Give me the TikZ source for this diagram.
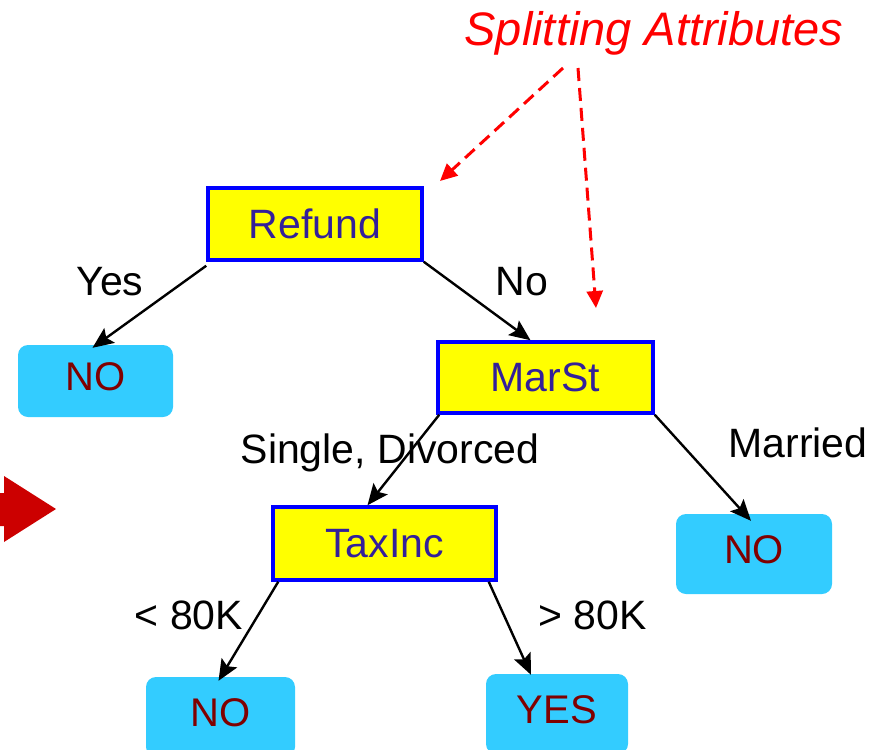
\documentclass[tikz,border=0pt]{standalone}
\usepackage{fontspec}
\setmainfont{Liberation Sans}
\usetikzlibrary{arrows.meta}
\definecolor{boxfill}{HTML}{FFFF00}
\definecolor{boxline}{HTML}{0000FF}
\definecolor{boxtext}{HTML}{33209A}
\definecolor{leaffill}{HTML}{33CCFF}
\definecolor{leaftext}{HTML}{800000}
\definecolor{noteRed}{HTML}{FF0000}
\definecolor{bigarrow}{HTML}{CC0000}
\tikzset{
  attr/.style={draw=boxline, line width=3.5pt, fill=boxfill, text=boxtext,
    font=\fontsize{41}{41}\selectfont, inner sep=0pt, text depth=0pt},
  leaf/.style={fill=leaffill, rounded corners=10pt, text=leaftext,
    font=\fontsize{40}{40}\selectfont, inner sep=0pt, text depth=9pt},
  edgelab/.style={font=\fontsize{41}{41}\selectfont, inner sep=0pt, anchor=base},
  branch/.style={line width=2.4pt, -{Stealth[length=21pt,width=18pt,inset=4pt]}},
  pointer/.style={noteRed, line width=3pt, dash pattern=on 13pt off 7pt,
    -{Triangle[length=17pt,width=16pt]}},
}
\begin{document}
\begin{tikzpicture}[x=1pt,y=-1pt]
  \useasboundingbox (0,0) rectangle (887,750);

  % block arrow on the left edge
  \fill[bigarrow] (0,493) -- (4,493) -- (4,476) -- (56,509) -- (4,542)
    -- (4,526) -- (0,526) -- cycle;

  % heading and its pointers
  \node[edgelab, text=noteRed, font=\fontsize{47}{47}\selectfont\itshape]
    (title) at (654,45) {Splitting Attributes};
  \coordinate (p1) at (563,68);
  \coordinate (p2) at (578,68);
  \coordinate (t1) at (440,181);
  \coordinate (t2) at (596,308);

  % attribute tests
  \node[attr, minimum width=214pt, minimum height=72pt] (refund) at (315,224) {Refund};
  \node[attr, minimum width=215pt, minimum height=71pt] (marst) at (545.5,377.5) {MarSt};
  \node[attr, minimum width=223pt, minimum height=73pt] (taxinc) at (384.5,543.5) {TaxInc};

  % leaves
  \node[leaf, minimum width=155pt, minimum height=72pt] (no1) at (95.5,381) {NO};
  \node[leaf, minimum width=156pt, minimum height=80pt] (no2) at (754,554) {NO};
  \node[leaf, minimum width=149pt, minimum height=80pt] (no3) at (220.5,717) {NO};
  \node[leaf, minimum width=142pt, minimum height=80pt] (yes) at (557,714) {YES};

  % branch labels
  \node[edgelab] (lyes) at (110,295) {Yes};
  \node[edgelab] (lno) at (522,295) {No};
  \node[edgelab] (lsd) at (390,463) {Single, Divorced};
  \node[edgelab] (lmar) at (798,457) {Married};
  \node[edgelab] (llt) at (189,629) {< 80K};
  \node[edgelab] (lgt) at (592.5,629) {> 80K};

  % branches
  \draw[branch] ([yshift=-4pt]refund.south west) -- ([xshift=-3pt,yshift=-3pt]no1.north);
  \draw[branch] (refund.south east) -- ([xshift=-15pt]marst.north);
  \draw[branch] ([xshift=3pt]marst.south west) -- ([xshift=-17pt]taxinc.north);
  \draw[branch] (marst.south east) -- ([xshift=-3pt,yshift=-7pt]no2.north);
  \draw[branch] ([xshift=7pt]taxinc.south west) -- ([xshift=-2pt,yshift=-4pt]no3.north);
  \draw[branch] ([xshift=-9pt]taxinc.south east) -- ([xshift=-26pt,yshift=-1pt]yes.north);

  % dashed pointers
  \draw[pointer] (p1) -- (t1);
  \draw[pointer] (p2) -- (t2);
\end{tikzpicture}
\end{document}
